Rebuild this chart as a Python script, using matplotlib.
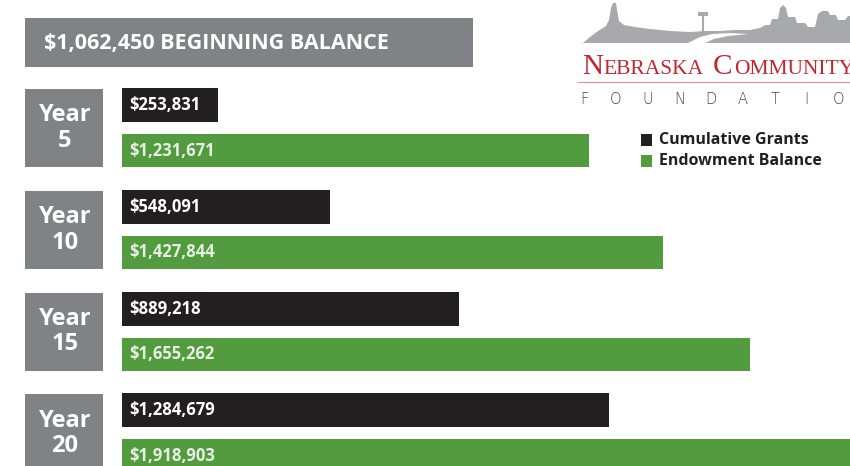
import matplotlib.pyplot as plt
from matplotlib.patches import Rectangle, Polygon
from matplotlib.transforms import offset_copy

# data
years = ["Year\n5", "Year\n10", "Year\n15", "Year\n20"]
grants = [253831, 548091, 889218, 1284679]
endowment = [1231671, 1427844, 1655262, 1918903]
beginning = 1062450

BLACK = "#231f20"
GREEN = "#529b3f"
GRAY = "#808285"
RED = "#c3262f"
LOGO_GRAY = "#a7a9ac"
FONT = "Open Sans"

W, H = 850, 466
fig = plt.figure(figsize=(W / 100, H / 100), dpi=100)

# background axes in pixel coordinates for the decorative parts
bg = fig.add_axes([0, 0, 1, 1])
bg.set_xlim(0, W)
bg.set_ylim(H, 0)
bg.axis("off")

# bar axes: x in dollars, y in pixels
ax = fig.add_axes([122 / W, 0, (W - 122) / W, 1])
ax.set_xlim(0, 1.92e6)
ax.set_ylim(H, 0)
ax.axis("off")
lab_tr = offset_copy(ax.transData, fig=fig, x=7, y=0, units="dots")

step = 101.8
for i in range(len(years)):
    yb = 105 + step * i
    yg = yb + 45.5
    ax.barh(yb, grants[i], height=34, color=BLACK)
    ax.barh(yg, endowment[i], height=33, color=GREEN)
    ax.text(0, yb, f"${grants[i]:,}", color="white", transform=lab_tr,
            fontsize=12, fontweight="bold", family=FONT, va="center", ha="left")
    ax.text(0, yg, f"${endowment[i]:,}", color="#e6efe2", transform=lab_tr,
            fontsize=12, fontweight="bold", family=FONT, va="center", ha="left")
    # year box
    bg.add_patch(Rectangle((25, yb - 16), 78, 78, color=GRAY, lw=0))
    bg.text(65, yb + 23, years[i], color="white", fontsize=17, fontweight="bold",
            family=FONT, ha="center", va="center", linespacing=1.08)

# beginning balance banner
bg.add_patch(Rectangle((25, 18), 448, 49, color=GRAY, lw=0))
bg.text(44, 44, f"${beginning:,} BEGINNING BALANCE", color="white", fontsize=15.5,
        fontweight="bold", family=FONT, va="center", ha="left")

# legend
bg.add_patch(Rectangle((641, 134), 11, 12, color=BLACK, lw=0))
bg.add_patch(Rectangle((641, 155), 11, 12, color=GREEN, lw=0))
bg.text(659, 140, "Cumulative Grants", color=BLACK, fontsize=11.5, fontweight="bold",
        family=FONT, va="center", ha="left")
bg.text(659, 161, "Endowment Balance", color=BLACK, fontsize=11.5, fontweight="bold",
        family=FONT, va="center", ha="left")

# logo: skyline
sky = [(582, 44), (590, 37), (598, 31), (606, 26), (609, 20), (611, 8), (613, 3),
       (616, 3), (617, 10), (619, 21), (624, 25), (635, 27), (650, 29), (670, 31),
       (690, 32), (705, 31), (720, 31), (735, 30), (750, 30), (760, 28), (765, 25),
       (770, 25), (772, 19), (778, 19), (780, 8), (783, 5), (786, 8), (788, 17),
       (795, 17), (797, 23), (805, 23), (808, 27), (815, 27), (818, 14), (822, 11),
       (828, 11), (830, 15), (836, 15), (838, 20), (845, 20), (848, 16), (850, 16),
       (850, 43), (582, 43)]
bg.add_patch(Polygon(sky, closed=True, color=LOGO_GRAY, lw=0))
# river
river = [(688, 43), (700, 37), (712, 34), (730, 33), (748, 34), (728, 36),
         (714, 39), (705, 43)]
bg.add_patch(Polygon(river, closed=True, color="white", lw=0))
# water tower
bg.plot([703, 703], [15, 33], color=LOGO_GRAY, lw=1.5)
bg.add_patch(Rectangle((698, 12), 10, 4, color=LOGO_GRAY, lw=0))

serif = "Liberation Serif"
bg.text(582, 74, "N", color=RED, fontsize=21, family=serif, va="baseline")
bg.text(603, 74, "EBRASKA", color=RED, fontsize=15.5, family=serif, va="baseline")
bg.text(713, 74, "C", color=RED, fontsize=21, family=serif, va="baseline")
bg.text(734, 74, "OMMUNITY", color=RED, fontsize=15.5, family=serif, va="baseline")
bg.plot([578, 850], [82, 82], color=RED, lw=0.8, alpha=0.5)
for j, ch in enumerate("FOUNDATIO"):
    bg.text(584 + 31.8 * j, 99, ch, color="#444444", fontsize=10.5,
            family="DejaVu Sans", va="center", ha="center", fontweight="light")

fig.savefig("out.png", dpi=100)
